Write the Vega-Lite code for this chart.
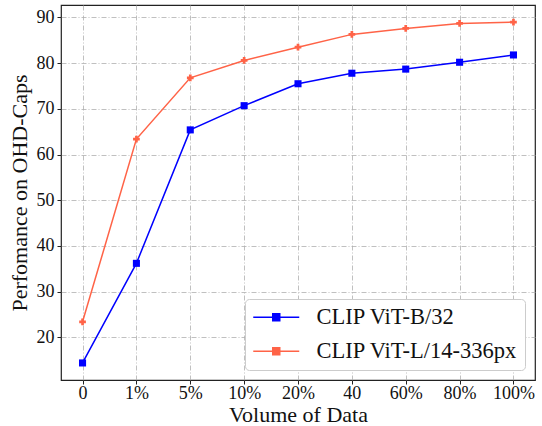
{
  "$schema": "https://vega.github.io/schema/vega-lite/v6.json",
  "autosize": "none",
  "width": 474,
  "height": 375,
  "padding": {"left": 61, "top": 5, "right": 7, "bottom": 46},
  "background": "white",
  "config": {
    "font": "Liberation Serif",
    "view": {"stroke": "#222222", "strokeWidth": 1.2},
    "axis": {
      "grid": true,
      "gridColor": "#b0b0b0",
      "gridDash": [5, 2, 1, 2],
      "gridWidth": 0.8,
      "domain": false,
      "tickColor": "#222222",
      "tickSize": 4,
      "tickWidth": 1,
      "labelFont": "Liberation Serif",
      "labelFontSize": 18,
      "labelColor": "#111111",
      "titleFont": "Liberation Serif",
      "titleFontSize": 22,
      "titleFontWeight": "normal",
      "titleColor": "#111111"
    }
  },
  "data": {
    "values": [
      {"x": "0", "model": "CLIP ViT-B/32", "v": 14.4},
      {"x": "1%", "model": "CLIP ViT-B/32", "v": 36.2},
      {"x": "5%", "model": "CLIP ViT-B/32", "v": 65.4},
      {"x": "10%", "model": "CLIP ViT-B/32", "v": 70.7},
      {"x": "20%", "model": "CLIP ViT-B/32", "v": 75.5},
      {"x": "40", "model": "CLIP ViT-B/32", "v": 77.8},
      {"x": "60%", "model": "CLIP ViT-B/32", "v": 78.7},
      {"x": "80%", "model": "CLIP ViT-B/32", "v": 80.2},
      {"x": "100%", "model": "CLIP ViT-B/32", "v": 81.8},
      {"x": "0", "model": "CLIP ViT-L/14-336px", "v": 23.4},
      {"x": "1%", "model": "CLIP ViT-L/14-336px", "v": 63.4},
      {"x": "5%", "model": "CLIP ViT-L/14-336px", "v": 76.8},
      {"x": "10%", "model": "CLIP ViT-L/14-336px", "v": 80.6},
      {"x": "20%", "model": "CLIP ViT-L/14-336px", "v": 83.5},
      {"x": "40", "model": "CLIP ViT-L/14-336px", "v": 86.3},
      {"x": "60%", "model": "CLIP ViT-L/14-336px", "v": 87.6},
      {"x": "80%", "model": "CLIP ViT-L/14-336px", "v": 88.7},
      {"x": "100%", "model": "CLIP ViT-L/14-336px", "v": 89.0}
    ]
  },
  "encoding": {
    "x": {
      "field": "x",
      "type": "ordinal",
      "sort": null,
      "scale": {"type": "point", "padding": 0.4},
      "axis": {"title": "Volume of Data", "labelAngle": 0, "labelPadding": 0, "titlePadding": 2}
    },
    "y": {
      "field": "v",
      "type": "quantitative",
      "scale": {"domain": [10.67, 92.73], "nice": false, "zero": false},
      "axis": {"title": "Perfomance on OHD-Caps", "values": [20, 30, 40, 50, 60, 70, 80, 90], "labelPadding": 3, "titlePadding": 5}
    },
    "color": {
      "field": "model",
      "type": "nominal",
      "scale": {"domain": ["CLIP ViT-B/32", "CLIP ViT-L/14-336px"], "range": ["#0000ff", "#ff6347"]},
      "legend": {
        "title": null,
        "orient": "bottom-right",
        "offset": 10,
        "padding": 7,
        "fillColor": "white",
        "strokeColor": "#cccccc",
        "cornerRadius": 4,
        "labelFont": "Liberation Serif",
        "labelFontSize": 22.5,
        "labelColor": "#111111",
        "labelOffset": 29,
        "labelLimit": 400,
        "symbolSize": 400,
        "symbolOffset": 13,
        "symbolStrokeWidth": 1.5,
        "symbolType": "M-2.3,0H2.3M-0.35,-0.35H0.35V0.35H-0.35Z",
        "rowPadding": 11
      }
    }
  },
  "layer": [
    {
      "mark": {"type": "line", "strokeWidth": 1.5}
    },
    {
      "transform": [{"filter": "datum.model == 'CLIP ViT-B/32'"}],
      "mark": {"type": "point", "filled": true, "opacity": 1, "shape": "square", "size": 50}
    },
    {
      "transform": [{"filter": "datum.model == 'CLIP ViT-L/14-336px'"}],
      "mark": {"type": "point", "filled": true, "opacity": 1, "shape": "cross", "size": 45}
    }
  ]
}
